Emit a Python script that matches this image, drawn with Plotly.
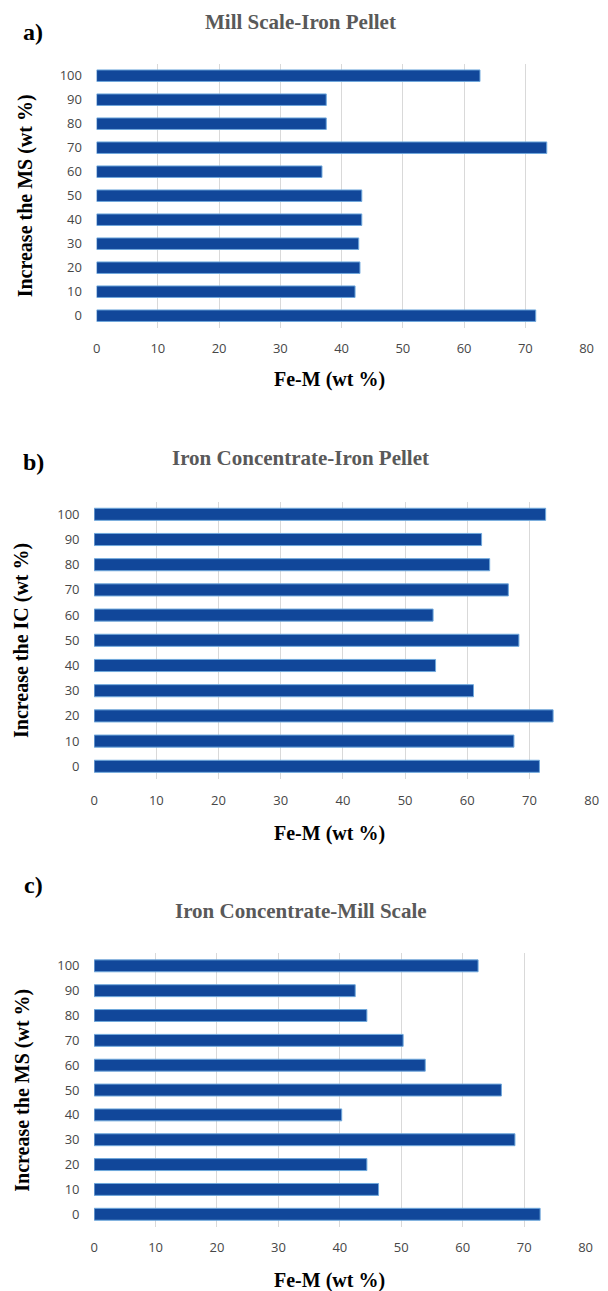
import plotly.graph_objects as go

W, H = 608, 1291

categories = ["0", "10", "20", "30", "40", "50", "60", "70", "80", "90", "100"]
x_ticks = [0, 10, 20, 30, 40, 50, 60, 70, 80]

mill_scale_iron_pellet = [71.7, 42.2, 43.0, 42.8, 43.3, 43.3, 36.8, 73.5, 37.5, 37.5, 62.6]
iron_conc_iron_pellet = [71.6, 67.5, 73.8, 61.0, 54.9, 68.3, 54.5, 66.6, 63.6, 62.3, 72.6]
iron_conc_mill_scale = [72.6, 46.3, 44.4, 68.5, 40.3, 66.3, 53.9, 50.3, 44.4, 42.5, 62.5]

panel_titles = ["Mill Scale-Iron Pellet", "Iron Concentrate-Iron Pellet", "Iron Concentrate-Mill Scale"]
panel_letters = ["a)", "b)", "c)"]
y_titles = ["Increase the MS (wt %)", "Increase the IC (wt %)", "Increase the MS (wt %)"]
x_title = "Fe-M (wt %)"

series = [mill_scale_iron_pellet, iron_conc_iron_pellet, iron_conc_mill_scale]

# pixel layout of each panel: (x0, x1, ytop, ybottom)
boxes = [
    (94.3, 593.3, 63.7, 327.7),
    (91.8, 598.5, 501.7, 778.9),
    (91.8, 592.3, 953.4, 1226.7),
]
# (letter x, letter y, title x, title y, xtitle x, xtitle y, ytitle x)
labels_pos = [
    (30, 32, 302, 22, 331, 380, 22),
    (30, 462, 302, 458, 331, 833, 18),
    (30, 885, 302, 911, 331, 1280, 18),
]

def px(x):
    return x / W

def py(y):
    return 1 - y / H

BAR = "#11479A"
EDGE = "#6FA8DC"
TICK = "#474747"
GRID = "#D9D9D9"
SERIF = "Liberation Serif, Times New Roman, serif"
SANS = "Open Sans, Lato, sans-serif"

fig = go.Figure()
annotations = []
for i, (vals, box, lp) in enumerate(zip(series, boxes, labels_pos)):
    n = "" if i == 0 else str(i + 1)
    fig.add_trace(go.Bar(
        x=vals, y=categories, orientation="h",
        marker=dict(color=BAR, line=dict(color=EDGE, width=1)),
        xaxis="x" + n, yaxis="y" + n, showlegend=False,
    ))
    x0, x1, yt, yb = box
    fig.layout["xaxis" + n] = dict(
        domain=[px(x0), px(x1)], anchor="y" + n, range=[0, 80],
        tickvals=x_ticks, showgrid=True, gridcolor=GRID, gridwidth=1,
        zeroline=False, showline=False, ticks="outside", ticklen=9,
        tickcolor="rgba(0,0,0,0)",
        tickfont=dict(family=SANS, size=13, color=TICK),
        fixedrange=True,
    )
    fig.layout["yaxis" + n] = dict(
        domain=[py(yb), py(yt)], anchor="x" + n, type="category",
        categoryorder="array", categoryarray=categories, range=[-0.5, 10.5],
        showgrid=False, zeroline=False, showline=False,
        ticks="outside", ticklen=11, tickcolor="rgba(0,0,0,0)",
        tickfont=dict(family=SANS, size=13, color=TICK),
        fixedrange=True,
    )
    lx, ly, tx, ty, xtx, xty, ytx = lp
    annotations.append(dict(
        text="<b>" + panel_letters[i] + "</b>", x=px(lx), y=py(ly),
        xref="paper", yref="paper", showarrow=False, xanchor="center", yanchor="middle",
        font=dict(family=SERIF, size=24, color="#000000"),
    ))
    annotations.append(dict(
        text="<b>" + panel_titles[i] + "</b>", x=px(tx), y=py(ty),
        xref="paper", yref="paper", showarrow=False, xanchor="center", yanchor="middle",
        font=dict(family=SERIF, size=21, color="#595959"),
    ))
    annotations.append(dict(
        text="<b>" + x_title + "</b>", x=px(xtx), y=py(xty),
        xref="paper", yref="paper", showarrow=False, xanchor="center", yanchor="middle",
        font=dict(family=SERIF, size=20, color="#000000"),
    ))
    annotations.append(dict(
        text="<b>" + y_titles[i] + "</b>", x=px(ytx), y=py((yt + yb) / 2),
        xref="paper", yref="paper", showarrow=False, xanchor="center", yanchor="middle",
        textangle=-90,
        font=dict(family=SERIF, size=20, color="#000000"),
    ))

fig.update_layout(
    width=W, height=H, margin=dict(l=0, r=0, t=0, b=0),
    paper_bgcolor="white", plot_bgcolor="white",
    bargap=0.52, annotations=annotations,
)

fig.write_html("out.html", config={"displayModeBar": False})
